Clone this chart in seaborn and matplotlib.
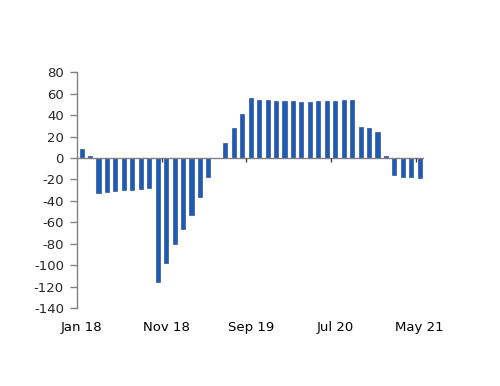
import numpy as np
import pandas as pd
import matplotlib
matplotlib.use("Agg")
import matplotlib.pyplot as plt
import seaborn as sns

# monthly values, Jan 18 .. May 21
months = pd.date_range("2018-01-01", "2021-05-01", freq="MS").strftime("%b %y").tolist()
values = [8.5, 1.5, -33, -32, -31, -30, -30, -29, -28, -115.5,
          -98, -80, -66, -53, -36, -18, 0, 14, 28, 41,
          55.5, 54.5, 54.5, 53.5, 53.5, 53, 52, 52.5, 53, 53.5,
          53.5, 54, 54.5, 28.5, 28, 24, 2, -16, -17.5, -18,
          -19]
tick_every = 10

df = pd.DataFrame({"month": months, "value": values})

sns.set_style("white")
plt.rcParams["font.family"] = ["DejaVu Sans"]
plt.rcParams["axes.unicode_minus"] = False

fig = plt.figure(figsize=(5, 3.86), dpi=100)
ax = fig.add_axes([0.153, 0.202, 0.695, 0.611])

sns.barplot(data=df, x="month", y="value", color="#1F5AB5", width=0.48,
            edgecolor="#1A3F8C", linewidth=0.4, saturation=1, ax=ax)

ax.set_ylim(-140, 80)
ax.set_yticks(np.arange(-140, 81, 20))
ax.set_xlim(-0.6, len(months) - 0.5)

pos = np.arange(0, len(months), tick_every)
ax.set_xticks(pos)
ax.set_xticklabels([months[i] for i in pos])
ax.tick_params(axis="x", length=0, pad=9, labelsize=9.5, colors="black")
ax.tick_params(axis="y", length=5, width=1, color="#808080", pad=4, labelsize=9.5,
               left=True, direction="out")

# zero line with category boundary ticks
ax.axhline(0, color="#808080", lw=1, zorder=1)
ax.plot(pos[1:] - 0.5, np.zeros(len(pos) - 1), linestyle="none", marker=3,
        markersize=3, color="#404040", mew=1)

for s in ["top", "right", "bottom"]:
    ax.spines[s].set_visible(False)
ax.spines["left"].set_color("#808080")
ax.spines["left"].set_linewidth(1)
ax.set_xlabel("")
ax.set_ylabel("")

fig.savefig("out.png", dpi=100)
